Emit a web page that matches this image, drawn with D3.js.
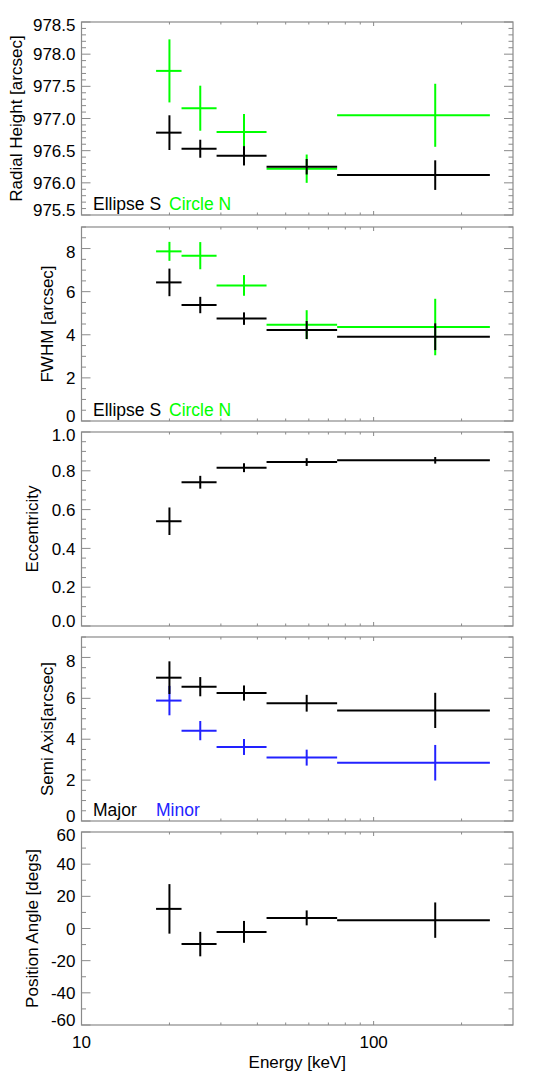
<!DOCTYPE html>
<html>
<head>
  <meta charset="UTF-8">
  <title>Ellipse fit vs energy</title>
  <style>
    body{ margin:0; background:#fff; }
    text{ font-family: "Liberation Sans", Arial, sans-serif; }
  </style>
</head>
<body>
<svg></svg>
<script src="https://d3js.org/d3.v7.min.js"></script>
<script>

// energy bins [keV]
const binLo = [18, 22, 29, 43, 75];
const binHi = [22, 29, 43, 75, 250];
const binMid = [20, 25.5, 36, 59, 162.5];

// radial height [arcsec]
const radialS = [976.78, 976.53, 976.42, 976.25, 976.12];
const radialSErr = [0.27, 0.14, 0.15, 0.12, 0.23];
const radialN = [977.74, 977.16, 976.79, 976.22, 977.05];
const radialNErr = [0.49, 0.35, 0.28, 0.22, 0.49];

// FWHM [arcsec]
const fwhmS = [6.43, 5.38, 4.75, 4.22, 3.91];
const fwhmSErr = [0.64, 0.38, 0.29, 0.42, 0.62];
const fwhmN = [7.87, 7.67, 6.29, 4.47, 4.36];
const fwhmNErr = [0.44, 0.63, 0.48, 0.67, 1.31];

// eccentricity
const ecc = [0.540, 0.741, 0.816, 0.845, 0.854];
const eccErr = [0.071, 0.033, 0.023, 0.020, 0.017];

// semi axes [arcsec]
const major = [7.01, 6.57, 6.26, 5.76, 5.41];
const majorErr = [0.80, 0.47, 0.37, 0.41, 0.86];
const minor = [5.89, 4.42, 3.62, 3.10, 2.85];
const minorErr = [0.72, 0.47, 0.39, 0.39, 0.87];

// position angle [degs]
const angle = [12.2, -9.7, -2.1, 6.6, 5.2];
const angleErr = [15.4, 7.6, 6.8, 4.65, 11.0];

// tick labels
const radialTicks = ["975.5", "976.0", "976.5", "977.0", "977.5", "978.0", "978.5"];
const fwhmTicks = ["0", "2", "4", "6", "8"];
const eccTicks = ["0.0", "0.2", "0.4", "0.6", "0.8", "1.0"];
const axisTicks = ["0", "2", "4", "6", "8"];
const angleTicks = ["-60", "-40", "-20", "0", "20", "40", "60"];
const xTickLabels = ["10", "100"];
const xMinorTicks = [20, 30, 40, 50, 60, 70, 80, 90, 200];

const width = 540, height = 1080;
const L = 81.5, R = 513;
const frameCol = "#8a8a8a";
const GREEN = "#00ff00", BLUE = "#2222ff";

let svg = d3.select("svg")
    .attr("width", width)
    .attr("height", height);

let x = d3.scaleLog().domain([10, 300]).range([L, R]);

const panels = [
  { top: 22, bottom: 215, domain: [975.5, 978.5], minor: 0.1, ticks: radialTicks,
    label: "Radial Height [arcsec]", labelX: 16,
    series: [{v: radialN, e: radialNErr, c: GREEN}, {v: radialS, e: radialSErr, c: "#000"}],
    legend: [{t: "Ellipse S", x: 93, c: "#000"}, {t: "Circle N", x: 169, c: GREEN}] },
  { top: 227, bottom: 421, domain: [0, 9], minor: 0.5, ticks: fwhmTicks,
    label: "FWHM [arcsec]", labelX: 47,
    series: [{v: fwhmN, e: fwhmNErr, c: GREEN}, {v: fwhmS, e: fwhmSErr, c: "#000"}],
    legend: [{t: "Ellipse S", x: 93, c: "#000"}, {t: "Circle N", x: 169, c: GREEN}] },
  { top: 432, bottom: 626, domain: [0, 1], minor: 0.05, ticks: eccTicks,
    label: "Eccentricity", labelX: 32,
    series: [{v: ecc, e: eccErr, c: "#000"}],
    legend: [] },
  { top: 637, bottom: 821, domain: [0, 9], minor: 0.5, ticks: axisTicks,
    label: "Semi Axis[arcsec]", labelX: 47,
    series: [{v: minor, e: minorErr, c: BLUE}, {v: major, e: majorErr, c: "#000"}],
    legend: [{t: "Major", x: 93, c: "#000"}, {t: "Minor", x: 156, c: BLUE}] },
  { top: 832, bottom: 1025, domain: [-60, 60], minor: 10, ticks: angleTicks,
    label: "Position Angle [degs]", labelX: 32,
    series: [{v: angle, e: angleErr, c: "#000"}],
    legend: [] }
];

panels.forEach((p, pi) => {
    let y = d3.scaleLinear().domain(p.domain).range([p.bottom, p.top]);
    let g = svg.append("g");
    let majorVals = p.ticks.map(Number);

    // minor + major y ticks, left and right
    let n = Math.round((p.domain[1] - p.domain[0]) / p.minor);
    let yTickVals = d3.range(n + 1).map(i => p.domain[0] + i * p.minor);
    yTickVals.forEach(d => {
        let len = majorVals.some(m => Math.abs(m - d) < 1e-6) ? 9 : 4.5;
        g.append("line").attr("x1", L).attr("x2", L + len)
            .attr("y1", y(d)).attr("y2", y(d))
            .attr("stroke", frameCol).attr("stroke-width", 1);
        g.append("line").attr("x1", R).attr("x2", R - len)
            .attr("y1", y(d)).attr("y2", y(d))
            .attr("stroke", frameCol).attr("stroke-width", 1);
    });

    // end labels sit a little inside the frame, like the original
    p.ticks.forEach((t, i) => {
        let shift = 0;
        if (i === 0) shift = -5;
        if (i === p.ticks.length - 1) shift = 3;
        g.append("text")
            .attr("x", L - 6)
            .attr("y", y(+t) + shift)
            .attr("dy", "0.36em")
            .attr("text-anchor", "end")
            .attr("font-size", 17)
            .text(t);
    });

    // x ticks top & bottom
    xTickLabels.map(Number).concat(xMinorTicks).forEach(d => {
        if (d <= 10 || d >= 300) return;
        let len = d === 100 ? 4 : 2.5;
        g.append("line").attr("x1", x(d)).attr("x2", x(d))
            .attr("y1", p.bottom).attr("y2", p.bottom - len)
            .attr("stroke", frameCol).attr("stroke-width", 1);
        g.append("line").attr("x1", x(d)).attr("x2", x(d))
            .attr("y1", p.top).attr("y2", p.top + len)
            .attr("stroke", frameCol).attr("stroke-width", 1);
    });

    // frame
    g.append("rect")
        .attr("x", L).attr("y", p.top)
        .attr("width", R - L).attr("height", p.bottom - p.top)
        .attr("fill", "none")
        .attr("stroke", frameCol)
        .attr("stroke-width", 1.2);

    // error crosses
    p.series.forEach(s => {
        let sg = g.append("g").attr("stroke", s.c).attr("stroke-width", 2);
        s.v.forEach((v, i) => {
            sg.append("line")
                .attr("x1", x(binLo[i])).attr("x2", x(binHi[i]))
                .attr("y1", y(v)).attr("y2", y(v));
            sg.append("line")
                .attr("x1", x(binMid[i])).attr("x2", x(binMid[i]))
                .attr("y1", y(v - s.e[i])).attr("y2", y(v + s.e[i]));
        });
    });

    // legend
    p.legend.forEach(l => {
        g.append("text")
            .attr("x", l.x).attr("y", p.bottom - 5)
            .attr("fill", l.c)
            .attr("font-size", 17.5)
            .text(l.t);
    });

    // y title
    let cy = (p.top + p.bottom) / 2;
    g.append("text")
        .attr("transform", "translate(" + p.labelX + "," + cy + ") rotate(-90)")
        .attr("text-anchor", "middle")
        .attr("dy", "0.36em")
        .attr("font-size", 17)
        .text(p.label);

    // x labels on bottom panel only
    if (pi === panels.length - 1) {
        xTickLabels.forEach(t => {
            g.append("text")
                .attr("x", x(+t))
                .attr("y", p.bottom + 23)
                .attr("text-anchor", "middle")
                .attr("font-size", 17)
                .text(t);
        });

        g.append("text")
            .attr("x", (L + R) / 2)
            .attr("y", p.bottom + 43)
            .attr("text-anchor", "middle")
            .attr("font-size", 17)
            .text("Energy [keV]");
    }
});

</script>
</body>
</html>
